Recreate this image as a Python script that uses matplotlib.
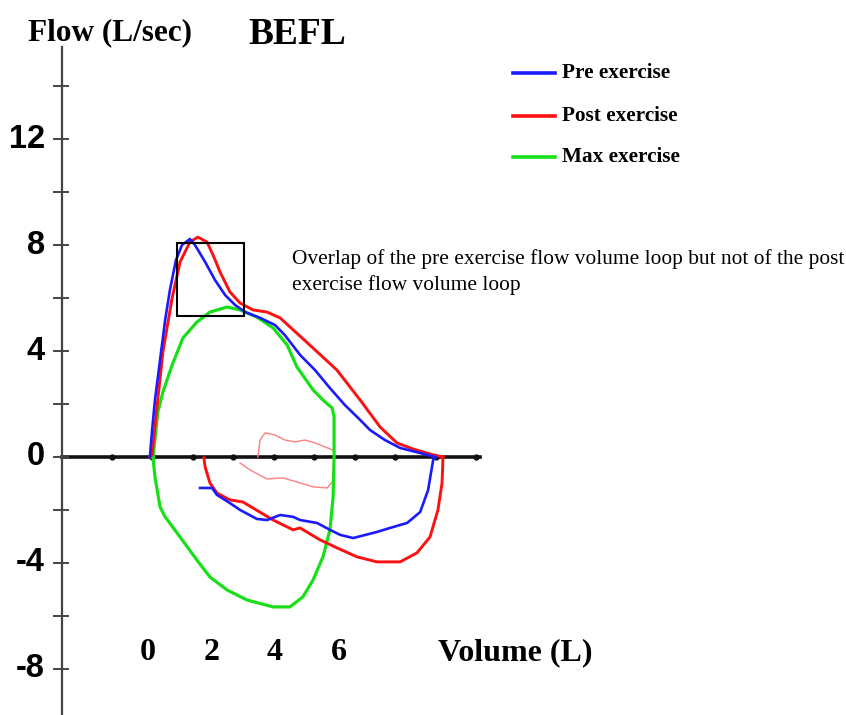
import matplotlib.pyplot as plt
from matplotlib.patches import Rectangle

# flow-volume loops: volume (L), flow (L/sec)
pre_exp_vol = [0.06, 0.13, 0.22, 0.38, 0.54, 0.69, 0.88, 1.07, 1.32, 1.48, 1.80, 2.11, 2.43, 2.74,
               3.06, 3.53, 4.00, 4.31, 4.79, 5.26, 5.73, 6.20, 6.68, 6.99, 7.46, 7.94, 8.57, 9.04]
pre_exp_flow = [0.0, 1.02, 2.15, 3.66, 5.17, 6.30, 7.43, 8.00, 8.23, 8.00, 7.36, 6.68, 6.11, 5.74,
                5.47, 5.25, 4.98, 4.60, 3.85, 3.28, 2.60, 1.96, 1.40, 1.02, 0.64, 0.34, 0.15, 0.0]
pre_insp_vol = [9.04, 8.98, 8.82, 8.57, 8.16, 7.62, 7.21, 6.46, 6.05, 5.73, 5.32, 4.79, 4.57, 4.16,
                3.75, 3.43, 2.90, 2.58, 2.17, 2.02, 1.64]
pre_insp_flow = [0.0, -0.11, -1.25, -2.08, -2.49, -2.68, -2.83, -3.06, -2.94, -2.75, -2.49, -2.38,
                 -2.26, -2.19, -2.38, -2.34, -2.00, -1.74, -1.43, -1.17, -1.17]

post_exp_vol = [0.06, 0.13, 0.28, 0.47, 0.76, 1.01, 1.32, 1.57, 1.86, 2.05, 2.27, 2.58, 2.90, 3.31,
                3.75, 4.16, 4.47, 5.20, 5.95, 6.68, 7.31, 7.84, 8.35, 8.98, 9.29]
post_exp_flow = [0.0, 0.08, 1.85, 3.96, 6.00, 7.36, 8.11, 8.30, 8.11, 7.62, 6.98, 6.23, 5.81, 5.55,
                 5.47, 5.25, 4.91, 4.11, 3.28, 2.15, 1.13, 0.53, 0.30, 0.08, 0.0]
post_insp_vol = [9.29, 9.26, 9.13, 8.88, 8.47, 7.94, 7.21, 6.58, 5.95, 5.42, 4.79, 4.57, 3.94, 2.99,
                 2.58, 2.17, 1.95, 1.80, 1.76]
post_insp_flow = [0.0, -0.98, -2.00, -3.02, -3.62, -3.96, -3.96, -3.77, -3.43, -3.13, -2.68, -2.75,
                  -2.38, -1.70, -1.62, -1.36, -0.98, -0.38, -0.04]

# faint inner tidal loop (post exercise)
tidal_up_vol = [3.46, 3.53, 3.69, 4.00, 4.31, 4.63, 4.94, 5.26, 5.57, 5.83]
tidal_up_flow = [0.0, 0.64, 0.91, 0.83, 0.64, 0.57, 0.64, 0.53, 0.38, 0.26]
tidal_low_vol = [2.90, 3.21, 3.75, 4.25, 4.79, 5.20, 5.64, 5.80]
tidal_low_flow = [-0.23, -0.49, -0.83, -0.79, -0.98, -1.13, -1.17, -0.94]

max_vol = [0.16, 0.31, 0.47, 0.76, 1.10, 1.54, 1.95, 2.49, 2.90, 3.43, 3.94, 4.38, 4.69, 5.20, 5.51,
           5.80, 5.86, 5.86, 5.83, 5.73, 5.51, 5.20, 4.88, 4.47, 3.94, 3.12, 2.49, 1.95, 1.54, 1.01,
           0.54, 0.38, 0.22, 0.16]
max_flow = [0.0, 1.70, 2.45, 3.47, 4.49, 5.09, 5.47, 5.66, 5.55, 5.28, 4.87, 4.23, 3.40, 2.53, 2.15,
            1.85, 1.51, 0.0, -1.51, -2.75, -3.77, -4.64, -5.28, -5.66, -5.66, -5.40, -5.02, -4.53,
            -3.89, -3.02, -2.26, -1.89, -0.75, -0.04]

flow_ticks = [14, 12, 10, 8, 6, 4, 2, 0, -2, -4, -6, -8]
flow_labels = [12, 8, 4, 0, -4, -8]
vol_labels = [0, 2, 4, 6]
axis_marks = [-1.13, 0.14, 1.42, 2.69, 3.97, 5.24, 6.52, 7.79, 9.07, 10.34]

fig = plt.figure(figsize=(8.46, 7.15), dpi=100)
ax = fig.add_axes([0, 0, 1, 1])
ax.set_xlim(-4.66, 21.98)
ax.set_ylim(-9.74, 17.25)
ax.axis('off')

serif = 'Liberation Serif'
sans = 'Liberation Sans'

# hand-drawn style axes
ax.plot([-2.71, -2.71], [15.47, -9.74], color='#444444', lw=1.6)
for t in flow_ticks:
    ax.plot([-2.96, -2.52], [t, t], color='#444444', lw=1.4)
for t in flow_labels:
    ax.text(-3.24, t, str(t), ha='right', va='center', fontsize=23.5, fontweight='bold', family=sans)
ax.plot([-2.71, 10.46], [0, 0], color='#111111', lw=2.6, zorder=1)
ax.plot(axis_marks, [0] * len(axis_marks), ls='none', marker='o', ms=3.5, color='#111111', zorder=1)

# loops
blue = '#1a1aff'
red = '#ff1010'
green = '#18e018'
ax.plot(tidal_up_vol, tidal_up_flow, color='#ff8080', lw=1.0)
ax.plot(tidal_low_vol, tidal_low_flow, color='#ff8080', lw=1.0)
ax.plot(max_vol, max_flow, color=green, lw=2.3)
ax.plot(post_exp_vol, post_exp_flow, color=red, lw=2.1)
ax.plot(post_insp_vol, post_insp_flow, color=red, lw=2.1)
ax.plot(pre_exp_vol, pre_exp_flow, color=blue, lw=1.9)
ax.plot(pre_insp_vol, pre_insp_flow, color=blue, lw=1.9)

# box around the peak
ax.add_patch(Rectangle((0.91, 5.32), 2.11, 2.76, fill=False, ec='black', lw=1.5, zorder=5))

# titles and labels
ax.text(-3.78, 16.02, 'Flow (L/sec)', ha='left', va='center', fontsize=22.5, fontweight='bold', family=serif)
ax.text(3.15, 15.95, 'BEFL', ha='left', va='center', fontsize=27, fontweight='bold', family=serif)
for v in vol_labels:
    ax.text(v, -7.38, str(v), ha='center', va='center', fontsize=23, fontweight='bold', family=serif)
ax.text(9.13, -7.38, 'Volume (L)', ha='left', va='center', fontsize=23, fontweight='bold', family=serif)

ax.text(4.54, 6.98, 'Overlap of the pre exercise flow volume loop but not of the post\nexercise flow volume loop',
        ha='left', va='center', fontsize=15.4, family=serif, linespacing=1.4)

# legend
leg_items = [('Pre exercise', blue, 14.49), ('Post exercise', red, 12.87), ('Max exercise', green, 11.32)]
for name, col, fy in leg_items:
    ax.plot([11.5, 12.82], [fy, fy], color=col, lw=2.6)
    ax.text(13.04, fy, name, ha='left', va='center', fontsize=15.3, fontweight='bold', family=serif)

fig.savefig('out.png', dpi=100)
